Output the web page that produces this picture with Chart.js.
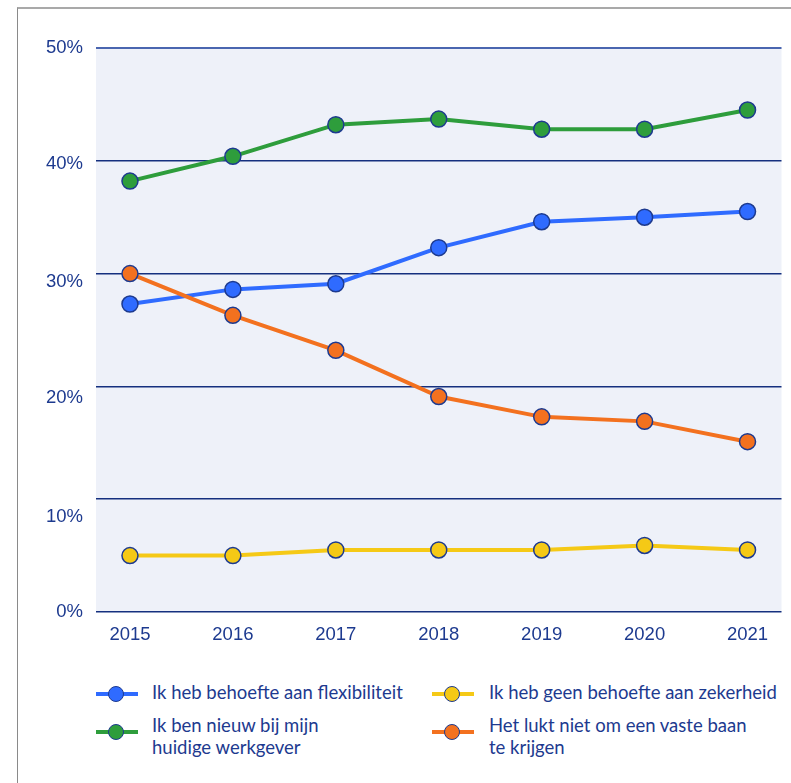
<!DOCTYPE html>
<html>
<head>
<meta charset="utf-8">
<script src="https://cdn.jsdelivr.net/npm/chart.js@4.4.1/dist/chart.umd.min.js"></script>
<style>
  html, body { margin: 0; padding: 0; background: #ffffff; }
  #page { position: relative; width: 791px; height: 783px; overflow: hidden; }
  #frame { position: absolute; left: 17px; top: 7px; right: -4px; bottom: -4px;
           border-top: 2px solid #a9a9a9; border-left: 1.5px solid #8a8a8a; }
  #wrap { position: absolute; left: 0; top: 0; width: 791px; height: 660px; }
  .item { position: absolute; font-family: "Lato", "Liberation Sans", sans-serif; font-size: 18.5px;
          line-height: 22px; color: #1d3a8f; white-space: nowrap; }
  .mk { position: absolute; width: 42px; height: 18px; }
  .mk .ln { position: absolute; left: 0; right: 0; top: 7px; height: 4px; }
  .mk .dot { position: absolute; left: 12px; top: 1px; width: 14px; height: 14px; border-radius: 50%;
             border: 1.5px solid #1d3a8f; }
</style>
</head>
<body>
<div id="page">
  <div id="frame"></div>
  <div id="wrap"><canvas id="c" width="791" height="660"></canvas></div>
  <div id="legend"></div>
</div>
<script>
// Survey years and answer shares (%)
const years = [2015, 2016, 2017, 2018, 2019, 2020, 2021];
const flexibiliteit = [27.3, 28.6, 29.1, 32.3, 34.6, 35.0, 35.5];
const nieuwBijWerkgever = [38.2, 40.4, 43.2, 43.7, 42.8, 42.8, 44.5];
const geenZekerheid = [5.0, 5.0, 5.5, 5.5, 5.5, 5.9, 5.5];
const geenVasteBaan = [30.0, 26.3, 23.2, 19.1, 17.3, 16.9, 15.1];

const seriesNames = [
  'Ik heb behoefte aan flexibiliteit',
  'Ik ben nieuw bij mijn huidige werkgever',
  'Ik heb geen behoefte aan zekerheid',
  'Het lukt niet om een vaste baan te krijgen'
];
const legendLines = [
  ['Ik heb behoefte aan flexibiliteit'],
  ['Ik ben nieuw bij mijn', 'huidige werkgever'],
  ['Ik heb geen behoefte aan zekerheid'],
  ['Het lukt niet om een vaste baan', 'te krijgen']
];

const NAVY = '#1d3a8f';
const colors = ['#2f6bff', '#2e9d3c', '#f5c916', '#f3711f'];
const values = [flexibiliteit, nieuwBijWerkgever, geenZekerheid, geenVasteBaan];

// Vertical nudge (px) of each percentage label below its grid line
const labelDrop = { 40: 3.5, 30: 8.8, 20: 11.2, 10: 17.4 };

// Datasets in drawing order: later ones are drawn on top
const order = [3, 2, 0, 1];
const datasets = values.map((vals, i) => ({
  label: seriesNames[i],
  data: years.map((y, k) => ({ x: y, y: vals[k] })),
  borderColor: colors[i],
  backgroundColor: colors[i],
  pointBackgroundColor: colors[i],
  pointBorderColor: NAVY,
  pointBorderWidth: 1.5,
  pointRadius: 8,
  borderWidth: 4,
  order: order[i]
}));

// Light panel behind the plotting area
const panelBg = {
  id: 'panelBg',
  beforeDraw(chart) {
    const { ctx, chartArea: a } = chart;
    ctx.save();
    ctx.fillStyle = '#eef1f9';
    ctx.fillRect(a.left, a.top, a.right - a.left, a.bottom - a.top);
    ctx.restore();
  }
};

new Chart(document.getElementById('c'), {
  type: 'line',
  data: { datasets },
  plugins: [panelBg],
  options: {
    responsive: false,
    animation: false,
    layout: { padding: { left: 0, right: 7, top: 48, bottom: 0 } },
    plugins: { legend: { display: false }, tooltip: { enabled: false } },
    scales: {
      x: {
        type: 'linear',
        min: 2014.67,
        max: 2021.33,
        afterFit(s) { s.height = 48; },
        border: { display: false },
        grid: { display: false, drawTicks: false },
        ticks: {
          stepSize: 1,
          includeBounds: false,
          padding: 11.5,
          color: NAVY,
          font: { family: 'Liberation Sans', size: 18.5 },
          callback: v => String(v)
        }
      },
      y: {
        min: 0,
        max: 50,
        afterFit(s) { s.width = 96; },
        border: { display: false },
        grid: {
          drawTicks: false,
          color: c => c.tick.value === 50 ? '#4a66b0' : (c.tick.value % 10 === 0 ? '#15307f' : '#c3c9de'),
          lineWidth: c => c.tick.value === 50 ? 2 : (c.tick.value % 10 === 0 ? 1.5 : 1.2)
        },
        ticks: {
          stepSize: 5,
          padding: 13,
          color: NAVY,
          font: c => {
            const d = c.tick && labelDrop[c.tick.value];
            return { family: 'Liberation Sans', size: 18.5, lineHeight: d ? (2 * d) + 'px' : 1.2 };
          },
          callback: v => {
            if (v % 10 !== 0) return '';
            const txt = v + '%';
            return labelDrop[v] ? ['', txt] : txt;
          }
        }
      }
    }
  }
});

// Legend in two columns below the chart
const legendPos = [
  { x: 96, y: 681, tx: 152, cy: 694 },
  { x: 96, y: 713.5, tx: 152, cy: 732 },
  { x: 432, y: 681, tx: 489, cy: 694 },
  { x: 432, y: 713.5, tx: 489, cy: 732 }
];
const legend = document.getElementById('legend');
legendPos.forEach((p, i) => {
  const mk = document.createElement('div');
  mk.className = 'mk';
  mk.style.left = p.x + 'px';
  mk.style.top = (p.cy - 9.5) + 'px';
  mk.innerHTML = '<div class="ln" style="background:' + colors[i] + '"></div>' +
                 '<div class="dot" style="background:' + colors[i] + '"></div>';
  legend.appendChild(mk);
  const t = document.createElement('div');
  t.className = 'item';
  t.style.left = p.tx + 'px';
  t.style.top = p.y + 'px';
  t.innerHTML = legendLines[i].join('<br>');
  legend.appendChild(t);
});
</script>
</body>
</html>
